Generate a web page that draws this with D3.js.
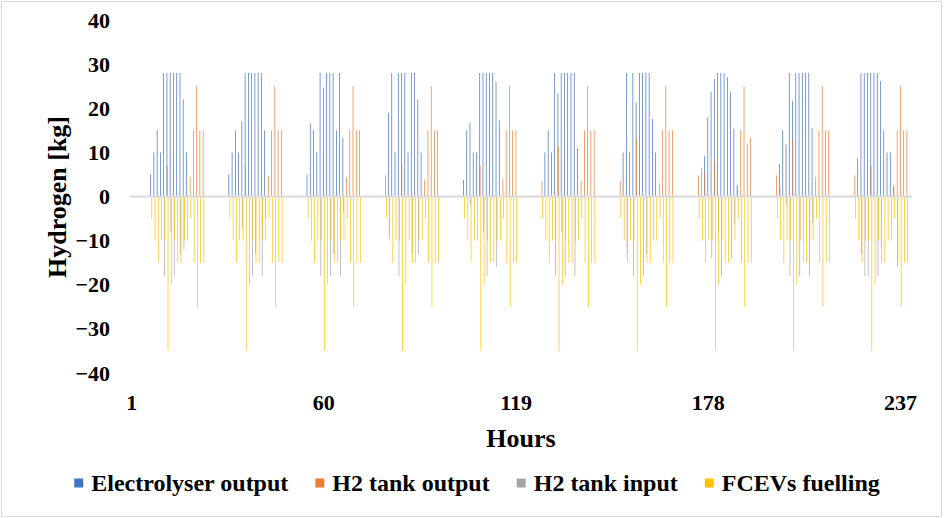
<!DOCTYPE html>
<html>
<head>
<meta charset="utf-8">
<script src="https://cdn.jsdelivr.net/npm/d3@7"></script>
<style>
  body { margin: 0; background: #fff; }
  #chart { width: 944px; height: 518px; }
  text { font-family: "Liberation Serif", "Times New Roman", serif; font-weight: bold; fill: #000; }
</style>
</head>
<body>
<div id="chart"></div>
<script>
// hourly values, one row per day (h0..h23)
const electrolyserOutput = [
  [0,0,0,0,0,0,5,10,15,10,28,28,28,28,28,28,22,10,0,0,0,0,0,0],
  [0,0,0,0,0,0,5,10,15,10,17,28,28,28,28,28,28,15,0,0,0,0,0,0],
  [0,0,0,0,0,0,5,16.6,15,10,28,24.7,28,28,28,15,28,13.3,0,0,0,0,0,0],
  [0,0,0,0,0,0,0,19,28,10,28,28,28,10,28,28,22,10,0,0,0,0,0,0],
  [0,0,0,0,0,0,3.8,15,16.8,10,10,28,28,28,28,28,26,17.3,0,0,0,0,0,0],
  [0,0,0,0,0,0,0,10,15,10,28,23.4,28,28,28,28,28,11,0,0,0,0,0,0],
  [0,0,0,0,0,0,0,10,28,10,28,21.3,28,28,28,28,17.6,10,0,0,0,0,0,0],
  [0,0,0,0,0,0,0,0,9.2,18,23.8,26.6,28,28,28,27,23.8,15.4,2.7,0,0,0,0,0],
  [0,0,0,0,0,0,0,7.4,15,11.8,28,21.7,28,28,28,28,28,15.5,0,0,0,0,0,0],
  [0,0,0,0,0,0,0,8.7,28,28,28,28,28,28,26.2,15,10,10,2.1,0,0,0,0,0]
].flat();

const tankOutput = [
  [0,0,0,0,0,0,0,0,0,0,0,7,0,0,0,0,0,0,4.5,15,25,15,15,0],
  [0,0,0,0,0,0,0,0,0,0,0,7,0,0,0,0,0,0,4.7,15,25,15,15,0],
  [0,0,0,0,0,0,0,0,0,0,0,10,0,0,0,0,0,0,4.4,15,25,15,15,0],
  [0,0,0,0,0,0,4.8,0,0,0,0,7,0,0,0,0,0,0,3.8,15,25,15,15,0],
  [0,0,0,0,0,0,0,0,0,0,0,7,0,0,0,0,0,0,4,15,25,15,15,0],
  [0,0,0,0,0,0,3.5,0,0,0,0,11.3,0,0,0,0,0,0,3.6,15,25,15,15,0],
  [0,0,0,0,0,0,3.6,0,0,0,0,13.3,0,0,0,0,0,0,3,15,25,15,15,0],
  [0,0,0,0,0,0,4.8,6.5,5.5,0,0,8,0,0,0,0,0,0,2,15,25,12,13.3,0],
  [0,0,0,0,0,0,4.8,2.3,0,0,0,13,0,0,0,0,0,0,4.5,15,25,15,15,0],
  [0,0,0,0,0,0,4.8,0,0,0,0,7,0,0,0,0,0,0,2.7,15,25,15,15,0]
].flat();

const tankInput = [
  [0,0,0,0,0,0,0,0,0,0,-18,0,-8,-18,0,-13,-12,0,0,0,0,0,0,0],
  [0,0,0,0,0,0,0,0,0,0,-7,0,0,-18,-13,0,-18,-5,0,0,0,0,0,0],
  [0,0,0,0,0,0,0,0,0,0,-18,0,0,-18,-13,0,-18,-3.5,0,0,0,0,0,0],
  [0,0,0,0,0,0,0,-9,0,0,-18,0,0,0,-13,0,-13,0,0,0,0,0,0,0],
  [0,0,0,0,0,0,0,0,-2,0,0,0,-8,-18,0,0,-16,0,0,0,0,0,0,0],
  [0,0,0,0,0,0,0,0,0,0,-18,0,-8,-18,0,0,-18,0,0,0,0,0,0,0],
  [0,0,0,0,0,0,0,0,-13,0,-18,0,0,-18,-13,0,0,0,0,0,0,0,0,0],
  [0,0,0,0,0,0,0,0,0,0,-14,0,-8,-18,0,0,-14,-6,0,0,0,0,0,0],
  [0,0,0,0,0,0,0,0,0,-2,-18,0,0,-18,0,0,-18,-6,0,0,0,0,0,0],
  [0,0,0,0,0,0,0,0,-13,-18,-18,0,0,-18,-11.5,0,0,0,0,-16,0,0,0,0]
].flat();

const fcevFuelling = [
  [0,0,0,0,0,0,-5,-10,-15,-10,-10,-35,-20,-10,-15,-15,-10,-10,-5,-15,-25,-15,-15,0],
  [0,0,0,0,0,0,-5,-10,-15,-10,-10,-35,-20,-10,-15,-15,-10,-10,-5,-15,-25,-15,-15,0],
  [0,0,0,0,0,0,-5,-10,-15,-10,-10,-35,-20,-10,-15,-15,-10,-10,-5,-15,-25,-15,-15,0],
  [0,0,0,0,0,0,-5,-10,-15,-10,-10,-35,-20,-10,-15,-15,-10,-10,-5,-15,-25,-15,-15,0],
  [0,0,0,0,0,0,-5,-10,-15,-10,-10,-35,-20,-10,-15,-15,-10,-10,-5,-15,-25,-15,-15,0],
  [0,0,0,0,0,0,-5,-10,-15,-10,-10,-35,-20,-10,-15,-15,-10,-10,-5,-15,-25,-15,-15,0],
  [0,0,0,0,0,0,-5,-10,-15,-10,-10,-35,-20,-10,-15,-15,-10,-10,-5,-15,-25,-15,-15,0],
  [0,0,0,0,0,0,-5,-10,-15,-10,-10,-35,-20,-10,-15,-15,-10,-10,-5,-15,-25,-15,-15,0],
  [0,0,0,0,0,0,-5,-10,-15,-10,-10,-35,-20,-10,-15,-15,-10,-10,-5,-15,-25,-15,-15,0],
  [0,0,0,0,0,0,-5,-10,-15,-10,-10,-35,-20,-10,-15,-15,-10,-10,-5,-15,-25,-15,-15,0]
].flat();

const hours = electrolyserOutput.map((d, i) => i + 1);
const hourTicks = [1, 60, 119, 178, 237];
const yTicks = [-40, -30, -20, -10, 0, 10, 20, 30, 40];

const seriesNames = ['Electrolyser output', 'H2 tank output', 'H2 tank input', 'FCEVs fuelling'];
const seriesValues = [electrolyserOutput, tankOutput, tankInput, fcevFuelling];
const seriesColors = ['#4472C4', '#ED7D31', '#A5A5A5', '#FFC000'];

const hydrogenChart = (() => {
  let $svg,
      $plot;

  let width = 944,
      height = 518,
      plot = {left: 130, right: 912, top: 20, bottom: 373},
      barWidth = 0.7;

  let x0, x1, y;

  const init = (el) => {
    x0 = d3.scaleBand()
      .domain(hours)
      .range([plot.left, plot.right])
      .paddingInner(0.55)
      .paddingOuter(0.275);

    x1 = d3.scaleBand()
      .domain(seriesNames)
      .range([0, x0.bandwidth()]);

    y = d3.scaleLinear()
      .domain([-40, 40])
      .range([plot.bottom, plot.top]);

    draw(el);
  };

  function draw(el) {
    $svg = d3.select(el).append('svg')
      .attr('width', width)
      .attr('height', height);

    $svg.append('rect')
      .attr('x', 1.5).attr('y', 1.5)
      .attr('width', 940).attr('height', 515)
      .attr('fill', '#fff')
      .attr('stroke', '#D9D9D9')
      .attr('stroke-width', 1);

    $plot = $svg.append('g');

    seriesNames.forEach((name, s) => {
      const rows = seriesValues[s]
        .map((v, i) => ({hour: hours[i], value: v}))
        .filter(d => d.value !== 0);

      $plot.append('g')
        .attr('fill', seriesColors[s])
        .selectAll('rect')
        .data(rows)
        .enter().append('rect')
          .attr('x', d => x0(d.hour) + x1(name) + (x1.bandwidth() - barWidth) / 2)
          .attr('width', barWidth)
          .attr('y', d => y(Math.max(0, d.value)))
          .attr('height', d => Math.abs(y(d.value) - y(0)));
    });

    // zero line
    $plot.append('line')
      .attr('x1', plot.left).attr('x2', plot.right)
      .attr('y1', y(0)).attr('y2', y(0))
      .attr('stroke', '#D9D9D9')
      .attr('stroke-width', 2);

    const yAxis = $svg.append('g')
      .attr('transform', `translate(${plot.left},0)`)
      .call(d3.axisLeft(y).tickValues(yTicks).tickSize(0).tickPadding(20));
    yAxis.select('.domain').remove();
    yAxis.selectAll('text')
      .style('font-size', '22px')
      .style('font-family', '"Liberation Serif", "Times New Roman", serif');

    const xAxis = $svg.append('g')
      .attr('transform', `translate(0,${plot.bottom})`)
      .call(d3.axisBottom(x0).tickValues(hourTicks).tickFormat(d => String(d)).tickSize(0).tickPadding(21));
    xAxis.select('.domain').remove();
    xAxis.selectAll('text')
      .style('font-size', '22px')
      .style('font-family', '"Liberation Serif", "Times New Roman", serif');

    $svg.append('text')
      .attr('transform', 'translate(57,197) rotate(-90)')
      .attr('text-anchor', 'middle')
      .attr('dy', '0.35em')
      .style('font-size', '26px')
      .text('Hydrogen [kg]');

    $svg.append('text')
      .attr('x', 521).attr('y', 438)
      .attr('text-anchor', 'middle')
      .attr('dy', '0.35em')
      .style('font-size', '26px')
      .text('Hours');

    // legend
    const $legend = $svg.append('g');
    let cursor = 0;
    seriesNames.forEach((name, s) => {
      const $item = $legend.append('g').attr('transform', `translate(${cursor},0)`);
      $item.append('rect')
        .attr('x', 0).attr('y', -4.5)
        .attr('width', 9).attr('height', 9)
        .attr('fill', seriesColors[s]);
      const $t = $item.append('text')
        .attr('x', 17).attr('dy', '0.35em')
        .style('font-size', '24px')
        .text(name);
      cursor += 17 + $t.node().getComputedTextLength() + 27;
    });
    const legendWidth = cursor - 27;
    $legend.attr('transform', `translate(${477 - legendWidth / 2},483)`);
  }

  return {
    init: init,
  };
})();

hydrogenChart.init(document.getElementById('chart'));
</script>
</body>
</html>
